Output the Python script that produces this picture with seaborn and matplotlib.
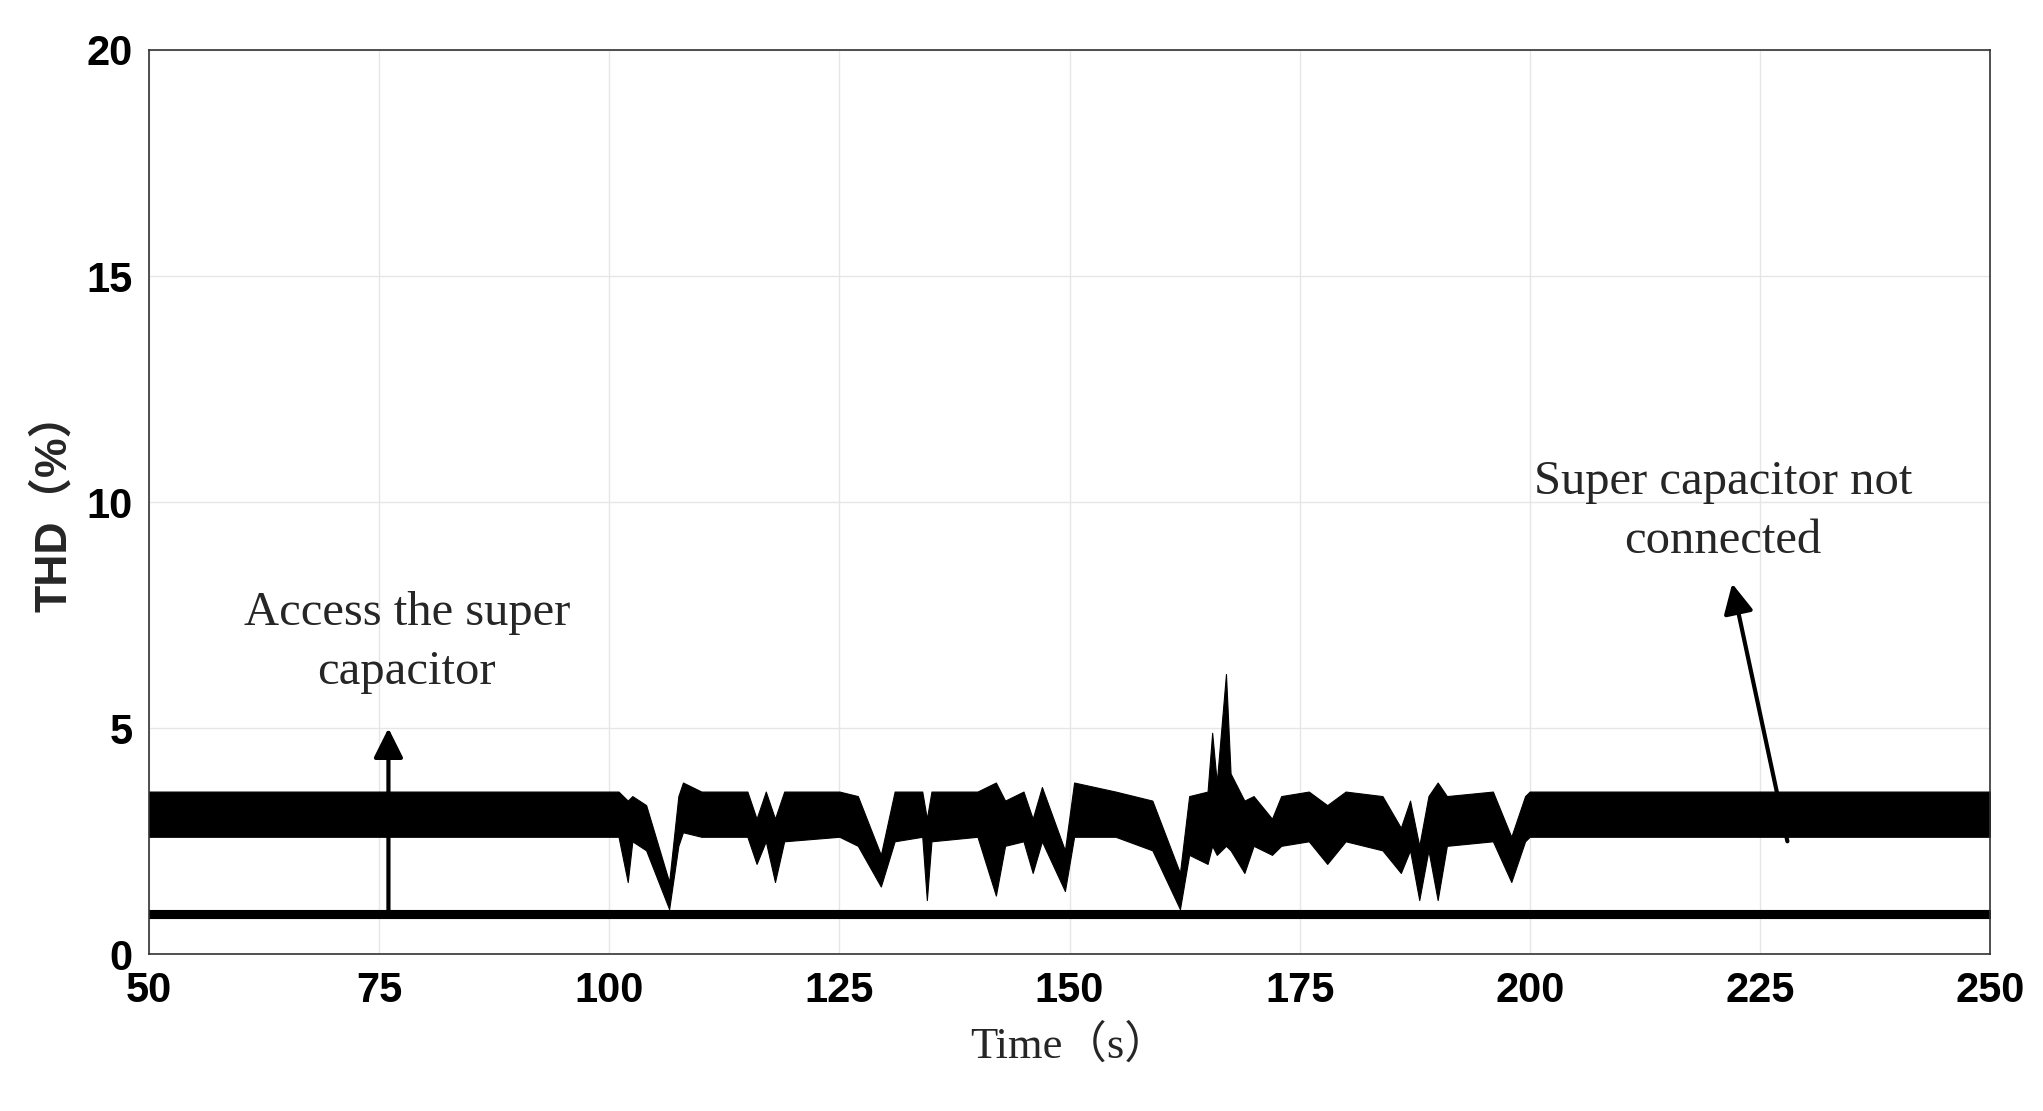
import numpy as np
import matplotlib.pyplot as plt
import seaborn as sns

# upper THD band envelope (without super capacitor)
t_band = [50, 101, 102, 102.5, 104, 106.5, 107.5, 108, 110, 115, 116, 117, 118, 119, 125, 127, 129.5, 131, 134, 134.5, 135,
          140, 142, 143, 145, 146, 147, 149.5, 150.5, 155, 159, 162, 163, 165, 165.5, 166, 167, 167.5, 169, 170, 172, 173,
          176, 178, 180, 184, 186, 187, 188, 189, 190, 191, 196, 198, 199.5, 200, 250]
band_hi = [3.6, 3.6, 3.4, 3.5, 3.3, 1.6, 3.5, 3.8, 3.6, 3.6, 3.0, 3.6, 3.0, 3.6, 3.6, 3.5, 2.2, 3.6, 3.6, 3.0, 3.6,
           3.6, 3.8, 3.4, 3.6, 3.0, 3.7, 2.3, 3.8, 3.6, 3.4, 1.8, 3.5, 3.6, 4.9, 3.8, 6.2, 4.0, 3.4, 3.5, 3.0, 3.5,
           3.6, 3.3, 3.6, 3.5, 2.8, 3.4, 2.4, 3.5, 3.8, 3.5, 3.6, 2.6, 3.5, 3.6, 3.6]
band_lo = [2.6, 2.6, 1.6, 2.5, 2.3, 1.0, 2.4, 2.7, 2.6, 2.6, 2.0, 2.5, 1.6, 2.5, 2.6, 2.4, 1.5, 2.5, 2.6, 1.2, 2.5,
           2.6, 1.3, 2.4, 2.5, 1.8, 2.5, 1.4, 2.6, 2.6, 2.3, 1.0, 2.2, 2.0, 2.4, 2.2, 2.4, 2.3, 1.8, 2.4, 2.2, 2.4,
           2.5, 2.0, 2.5, 2.3, 1.8, 2.3, 1.2, 2.3, 1.2, 2.4, 2.5, 1.6, 2.5, 2.6, 2.6]
# lower THD band (with super capacitor)
t_low = [50, 250]
low_hi = [0.98, 0.98]
low_lo = [0.80, 0.80]

sns.set_style("whitegrid")
plt.rcParams['font.family'] = ['Liberation Sans', 'DejaVu Sans']

fig = plt.figure(figsize=(20.43, 11.11), dpi=100)
ax = fig.add_axes([0.073, 0.141, 0.901, 0.814])

ax.fill_between(t_band, band_lo, band_hi, color='black', linewidth=0.8)
ax.fill_between(t_low, low_lo, low_hi, color='black', linewidth=0.8)

ax.set_xlim(50, 250)
ax.set_ylim(0, 20)
ax.set_xticks(np.arange(50, 251, 25))
ax.set_yticks([0, 5, 10, 15, 20])
ax.grid(True, color='#e6e6e6', linewidth=1)
for s in ax.spines.values():
    s.set_color('#333333')
    s.set_linewidth(1.2)
ax.tick_params(axis='both', labelsize=30, direction='in', length=8, colors='black', pad=12)
for lbl in ax.get_xticklabels() + ax.get_yticklabels():
    lbl.set_fontweight('bold')

ax.set_xlabel('Time（s）', fontsize=32, family=['Liberation Serif', 'Noto Sans CJK SC'], labelpad=10)
ax.set_ylabel('THD（%）', fontsize=32, fontweight='bold', family=['Liberation Sans', 'Noto Sans CJK SC'], labelpad=8)

serif = ['Liberation Serif', 'DejaVu Serif']
arrow = dict(arrowstyle='-|>', color='black', lw=3, mutation_scale=45, shrinkA=0, shrinkB=0)
ax.text(78, 6.9, 'Access the super\ncapacitor', ha='center', va='center',
        fontsize=35, family=serif, linespacing=1.45)
ax.annotate('', xy=(76, 5.0), xytext=(76, 0.85), arrowprops=arrow)
ax.text(221, 9.8, 'Super capacitor not\nconnected', ha='center', va='center',
        fontsize=35, family=serif, linespacing=1.45)
ax.annotate('', xy=(222, 8.2), xytext=(228, 2.5), arrowprops=arrow)

fig.savefig('out.png', dpi=100)
